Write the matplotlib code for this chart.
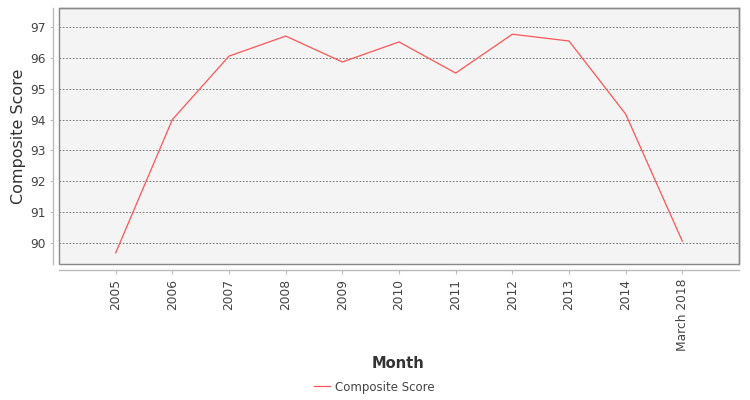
import matplotlib
matplotlib.use("Agg")
import matplotlib.pyplot as plt
from matplotlib.patches import Rectangle
from matplotlib.lines import Line2D

categories = ["2005", "2006", "2007", "2008", "2009", "2010", "2011", "2012", "2013", "2014", "March 2018"]
scores = [89.68, 94.0, 96.06, 96.71, 95.87, 96.52, 95.51, 96.77, 96.55, 94.18, 90.06]
yticks = [90, 91, 92, 93, 94, 95, 96, 97]

fig = plt.figure(figsize=(7.5, 4), dpi=100)
ax = fig.add_axes([59/750, 1-264/400, (739-59)/750, (264-8)/400])
ax.set_facecolor("#f4f4f4")

x = list(range(len(categories)))
ax.plot(x, scores, color="#ff5555", lw=0.9)

ax.set_xlim(-1, len(categories))
ax.set_ylim(89.32, 97.62)
ax.set_yticks(yticks)
ax.set_xticks(x)
ax.set_xticklabels(categories)
ax.yaxis.grid(True, linestyle=(0, (2, 2)), color="#666666", lw=0.6)
ax.set_axisbelow(True)

for s in ["top", "right"]:
    ax.spines[s].set_color("#888888")
    ax.spines[s].set_linewidth(1)
for s in ["left", "bottom"]:
    ax.spines[s].set_position(("outward", 4))
    ax.spines[s].set_color("#bbbbbb")
    ax.spines[s].set_linewidth(1)
ax.add_patch(Rectangle((0, 0), 1, 1, transform=ax.transAxes, fill=False,
                       edgecolor="#888888", lw=1, clip_on=False, zorder=5))

ax.tick_params(axis="both", colors="#bbbbbb", labelcolor="#444444", labelsize=8.8, length=3)
ax.tick_params(axis="y", length=2)
ax.tick_params(axis="x", labelrotation=90)

ax.set_ylabel("Composite Score", fontsize=11.5, color="#333333", labelpad=3)
fig.text(398/750, 1-364/400, "Month", ha="center", va="center", fontsize=10.5,
         color="#333333", fontweight="bold")

handle = Line2D([], [], color="#ff5555", lw=0.9)
fig.legend([handle], ["Composite Score"], loc="center", bbox_to_anchor=(374/750, 1-387/400),
           frameon=False, fontsize=8.5, labelcolor="#444444", handlelength=1.4,
           handletextpad=0.4)

fig.savefig("out.png", dpi=100)
